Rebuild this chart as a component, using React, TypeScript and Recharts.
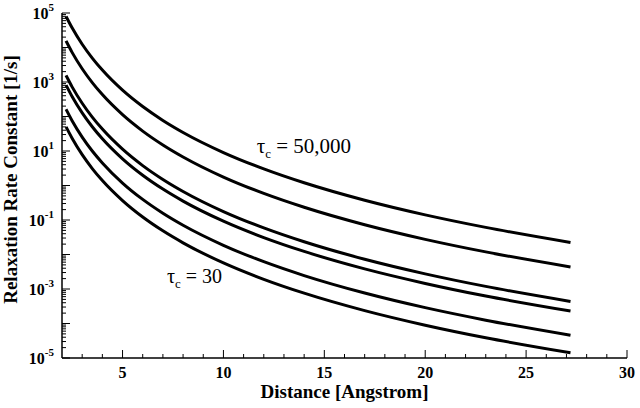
import React from 'react';
import { LineChart, Line, XAxis, YAxis, ReferenceDot } from 'recharts';

// Distance [Angstrom]
const distance = [2.2, 2.5, 3, 3.5, 4, 5, 6, 7, 8, 10, 12, 14, 17, 20, 23, 27.2];

// Relaxation rate constants [1/s], top curve (tau_c = 50,000) to bottom curve (tau_c = 30)
const rateTau50000 = [7.94e4, 3.71e4, 1.24e4, 4.92e3, 2.21e3, 5.78e2, 1.94e2, 76.9, 34.5, 9.04, 3.03, 1.2, 0.374, 0.141, 6.11e-2, 2.23e-2];
const rateCurve2 = [1.55e4, 7.23e3, 2.42e3, 9.59e2, 4.31e2, 1.13e2, 37.8, 15.0, 6.73, 1.76, 0.59, 0.234, 7.29e-2, 2.75e-2, 1.19e-2, 4.36e-3];
const rateCurve3 = [1.55e3, 7.23e2, 2.42e2, 95.9, 43.1, 11.3, 3.78, 1.5, 0.673, 0.176, 5.9e-2, 2.34e-2, 7.29e-3, 2.75e-3, 1.19e-3, 4.36e-4];
const rateCurve4 = [8.13e2, 3.79e2, 1.27e2, 50.4, 22.6, 5.92, 1.98, 0.787, 0.353, 9.25e-2, 3.1e-2, 1.23e-2, 3.83e-3, 1.45e-3, 6.25e-4, 2.29e-4];
const rateCurve5 = [1.62e2, 75.7, 25.3, 10.0, 4.51, 1.18, 0.395, 0.157, 7.05e-2, 1.85e-2, 6.18e-3, 2.45e-3, 7.64e-4, 2.88e-4, 1.25e-4, 4.56e-5];
const rateTau30 = [50.1, 23.4, 7.82, 3.1, 1.39, 0.365, 0.122, 4.85e-2, 2.18e-2, 5.7e-3, 1.91e-3, 7.57e-4, 2.36e-4, 8.91e-5, 3.85e-5, 1.41e-5];

const seriesKeys = ['s1', 's2', 's3', 's4', 's5', 's6'];
const seriesValues = [rateTau50000, rateCurve2, rateCurve3, rateCurve4, rateCurve5, rateTau30];

const xMajorTicks = [5, 10, 15, 20, 25, 30];
const xAllTicks = [3, 4, 5, 6, 7, 8, 9, 10, 11, 12, 13, 14, 15, 16, 17, 18, 19, 20, 21, 22, 23, 24, 25, 26, 27, 28, 29, 30];
const yDecadeExponents = [-5, -4, -3, -2, -1, 0, 1, 2, 3, 4, 5];
const yLabelledExponents = [-5, -3, -1, 1, 3, 5];
const yMinorMultipliers = [2, 3, 4, 5, 6, 7, 8, 9];

const yTicks: number[] = [];
yDecadeExponents.forEach((e) => {
  yTicks.push(Math.pow(10, e));
  if (e < 5) yMinorMultipliers.forEach((m) => yTicks.push(m * Math.pow(10, e)));
});

const data = distance.map((d, i) => {
  const row: any = { d };
  seriesKeys.forEach((k, j) => {
    row[k] = seriesValues[j][i];
  });
  return row;
});

const FONT = "'Liberation Serif', 'Times New Roman', serif";
const bold: React.CSSProperties = { fontFamily: FONT, fontWeight: 700 };
const plain: React.CSSProperties = { fontFamily: FONT, fontWeight: 400 };

const decadeOf = (v: number) => {
  const e = Math.log10(v);
  const r = Math.round(e);
  return Math.abs(e - r) < 1e-6 ? r : null;
};

const BottomTick = (props: any) => {
  const { x, y, payload } = props;
  const major = xMajorTicks.includes(payload.value);
  return (
    <g>
      <line x1={x} x2={x} y1={y} y2={y - (major ? 8 : 4)} stroke="#000" strokeWidth={1} />
      {major && (
        <text x={x} y={y + 20} textAnchor="middle" style={{ ...bold, fontSize: 16 }} fill="#000">
          {payload.value}
        </text>
      )}
    </g>
  );
};

const TopTick = (props: any) => {
  const { x, y, payload } = props;
  const major = xMajorTicks.includes(payload.value);
  return <line x1={x} x2={x} y1={y} y2={y + (major ? 8 : 4)} stroke="#000" strokeWidth={1} />;
};

const LeftTick = (props: any) => {
  const { x, y, payload } = props;
  const dec = decadeOf(payload.value);
  const len = dec !== null ? 8 : 4;
  const labelled = dec !== null && yLabelledExponents.includes(dec);
  return (
    <g>
      <line x1={x} x2={x + len} y1={y} y2={y} stroke="#000" strokeWidth={1} />
      {labelled && (
        <text x={x - 8} y={y + 6} textAnchor="end" style={{ ...bold, fontSize: 16 }} fill="#000">
          10
          <tspan dy={-8} style={{ fontSize: 11 }}>
            {dec}
          </tspan>
        </text>
      )}
    </g>
  );
};

const RightTick = (props: any) => {
  const { x, y, payload } = props;
  const dec = decadeOf(payload.value);
  const len = dec !== null ? 8 : 4;
  return <line x1={x} x2={x - len} y1={y} y2={y} stroke="#000" strokeWidth={1} />;
};

const XTitle = (props: any) => {
  const vb = props.viewBox;
  return (
    <text x={vb.x + vb.width / 2} y={vb.y + 40} textAnchor="middle" style={{ ...bold, fontSize: 19 }} fill="#000">
      Distance [Angstrom]
    </text>
  );
};

const YTitle = (props: any) => {
  const vb = props.viewBox;
  const cx = 17;
  const cy = vb.y + vb.height / 2 - 6;
  return (
    <text
      x={cx}
      y={cy}
      transform={`rotate(-90 ${cx} ${cy})`}
      textAnchor="middle"
      style={{ ...bold, fontSize: 19 }}
      fill="#000"
    >
      Relaxation Rate Constant [1/s]
    </text>
  );
};

const tauLabel = (value: string, size: number) => (props: any) => {
  const vb = props.viewBox;
  return (
    <text x={vb.x} y={vb.y} style={{ ...plain, fontSize: size }} fill="#000">
      τ
      <tspan dy={5} style={{ fontSize: 13 }}>
        c
      </tspan>
      <tspan dy={-5}>{` = ${value}`}</tspan>
    </text>
  );
};

export default function App() {
  return (
    <div style={{ position: 'absolute', left: 0, top: 0, width: 640, height: 408, background: '#fff' }}>
      <LineChart width={640} height={408} data={data} margin={{ top: 13, right: 13, bottom: 0, left: 0 }}>
        <XAxis
          dataKey="d"
          type="number"
          domain={[2, 30]}
          ticks={xAllTicks}
          interval={0}
          tickSize={0}
          tickMargin={0}
          tickLine={false}
          tick={<BottomTick />}
          axisLine={{ stroke: '#000', strokeWidth: 1.5 }}
          height={50}
          allowDataOverflow
          label={<XTitle />}
        />
        <XAxis
          xAxisId="top"
          orientation="top"
          dataKey="d"
          type="number"
          domain={[2, 30]}
          ticks={xAllTicks}
          interval={0}
          tickSize={0}
          tickMargin={0}
          tickLine={false}
          tick={<TopTick />}
          axisLine={{ stroke: '#000', strokeWidth: 1.5 }}
          height={0}
          allowDataOverflow
        />
        <YAxis
          scale="log"
          type="number"
          domain={[1e-5, 1e5]}
          ticks={yTicks}
          interval={0}
          tickSize={0}
          tickMargin={0}
          tickLine={false}
          tick={<LeftTick />}
          axisLine={{ stroke: '#000', strokeWidth: 1.5 }}
          width={62}
          allowDataOverflow
          label={<YTitle />}
        />
        <YAxis
          yAxisId="right"
          orientation="right"
          scale="log"
          type="number"
          domain={[1e-5, 1e5]}
          ticks={yTicks}
          interval={0}
          tickSize={0}
          tickMargin={0}
          tickLine={false}
          tick={<RightTick />}
          axisLine={{ stroke: '#000', strokeWidth: 1.5 }}
          width={0}
          allowDataOverflow
        />
        {seriesKeys.map((k) => (
          <Line
            key={k}
            dataKey={k}
            type="monotone"
            stroke="#000"
            strokeWidth={3}
            dot={false}
            activeDot={false}
            isAnimationActive={false}
          />
        ))}
        <ReferenceDot x={11.65} y={8.9} r={0} fill="none" stroke="none" label={tauLabel('50,000', 21)} />
        <ReferenceDot x={7.2} y={1.5e-3} r={0} fill="none" stroke="none" label={tauLabel('30', 20)} />
      </LineChart>
    </div>
  );
}
